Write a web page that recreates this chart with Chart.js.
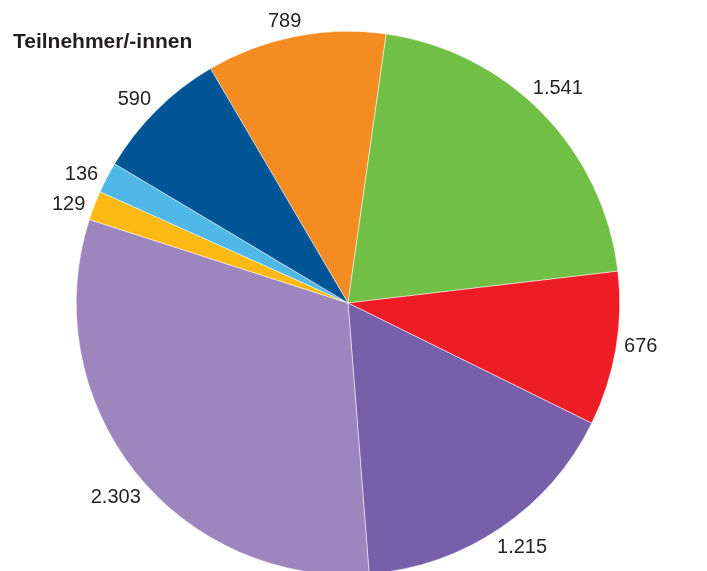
<!DOCTYPE html>
<html>
<head>
<meta charset="utf-8">
<script src="https://cdn.jsdelivr.net/npm/chart.js@4/dist/chart.umd.min.js"></script>
<style>
  html, body { margin: 0; padding: 0; background: #fff; overflow: hidden; }
  #wrap { position: relative; width: 707px; height: 580px; }
  #title { position: absolute; left: 13px; top: 29px; font: bold 21px "Liberation Sans", Arial, sans-serif; color: #231f20; }
</style>
</head>
<body>
<div id="wrap">
  <canvas id="pie"></canvas>
  <div id="title">Teilnehmer/-innen</div>
</div>
<script>
// slices in drawing order, clockwise from the orange one
var categories = ['Kategorie 1','Kategorie 2','Kategorie 3','Kategorie 4','Kategorie 5','Kategorie 6','Kategorie 7','Kategorie 8'];
var values = [789, 1541, 676, 1215, 2303, 129, 136, 590];
var colors = ['#F48C22', '#72BF45', '#EE1C25', '#7760A9', '#9C86BD', '#FDB913', '#50B8E9', '#005596'];

// labels sit just outside the rim, box edge ~6px from the arc
var valueLabels = {
    id: 'valueLabels',
    afterDatasetsDraw: function(chart) {
        var c = chart.ctx;
        var meta = chart.getDatasetMeta(0);
        c.save();
        c.font = '20px "Liberation Sans", Arial, sans-serif';
        c.fillStyle = '#231f20';
        c.textAlign = 'center';
        c.textBaseline = 'middle';
        meta.data.forEach(function(arc, i) {
            var p = arc.getProps(['x', 'y', 'startAngle', 'endAngle', 'outerRadius'], true);
            var mid = (p.startAngle + p.endAngle) / 2 - 1.5 * Math.PI / 180;
            var txt = values[i].toLocaleString('de-DE');
            var w = c.measureText(txt).width;
            var ux = Math.cos(mid), uy = Math.sin(mid);
            var r = p.outerRadius + 6.5 + Math.abs(ux) * w / 2 + Math.abs(uy) * 7.5;
            c.fillText(txt, p.x + ux * r, p.y + uy * r + 1);
        });
        c.restore();
    }
};

var canvas = document.getElementById('pie');
canvas.width = 707;
canvas.height = 580;
var ctx = canvas.getContext('2d');
var myChart = new Chart(ctx, {
    type: 'pie',
    data: {
        labels: categories,
        datasets: [{
            data: values,
            backgroundColor: colors,
            borderColor: '#ffffff',
            borderWidth: 0.5
        }]
    },
    options: {
        responsive: false,
        animation: false,
        rotation: -30.4,
        layout: { padding: { left: 76, right: 87, top: 31, bottom: 5 } },
        plugins: {
            legend: { display: false },
            tooltip: { enabled: false }
        }
    },
    plugins: [valueLabels]
});
</script>
</body>
</html>
